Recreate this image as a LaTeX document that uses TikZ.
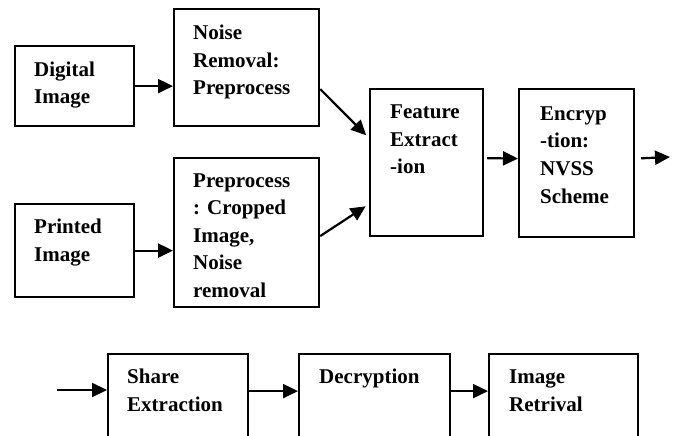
\documentclass[tikz,border=0pt]{standalone}
\usepackage{fontspec}
\setmainfont{Liberation Serif}
\usetikzlibrary{arrows.meta}

\tikzset{
  box/.style={draw=black, line width=2.2pt, rectangle, inner sep=0pt, anchor=north west},
  % multi-line labels are placed by the baseline of their last line
  lbl/.style={font=\bfseries\fontsize{21}{27.5}\selectfont, align=left, inner sep=0pt, anchor=base west},
  flow/.style={line width=2.2pt, -{Triangle[length=15pt,width=14pt]}}
}

\begin{document}
\begin{tikzpicture}[x=1pt, y=-1pt]
  \useasboundingbox (0,0) rectangle (673,436);
  \clip (0,0) rectangle (673,436);

  % input stage
  \node[box, minimum width=119pt, minimum height=80pt]  (dig)   at (14,45)  {};
  \node[box, minimum width=145pt, minimum height=117pt] (noise) at (173,8)  {};
  \node[box, minimum width=119pt, minimum height=93pt]  (prn)   at (14,203) {};
  \node[box, minimum width=145pt, minimum height=149pt] (prep)  at (173,157) {};

  % feature extraction and encryption
  \node[box, minimum width=113pt, minimum height=147pt] (feat)  at (369,88) {};
  \node[box, minimum width=115pt, minimum height=148pt] (enc)   at (518,88) {};

  % receiver side
  \node[box, minimum width=140pt, minimum height=100pt] (share) at (107,353) {};
  \node[box, minimum width=151pt, minimum height=100pt] (dec)   at (298,353) {};
  \node[box, minimum width=149pt, minimum height=100pt] (ret)   at (488,353) {};

  % box texts
  \node[lbl] (tdig)   at (34,104)  {Digital\\Image};
  \node[lbl] (tnoise) at (193,95)  {Noise\\Removal:\\Preprocess};
  \node[lbl] (tprn)   at (34,261)  {Printed\\Image};
  \node[lbl] (tprep)  at (193,297) {Preprocess\\: Cropped\\Image,\\Noise\\removal};
  \node[lbl] (tfeat)  at (390,174) {Feature\\Extract\\-ion};
  \node[lbl] (tenc)   at (540,203) {Encryp\\-tion:\\NVSS\\Scheme};
  \node[lbl] (tshare) at (127,411) {Share\\Extraction};
  \node[lbl] (tdec)   at (319,383) {Decryption};
  \node[lbl] (tret)   at (509,411) {Image\\Retrival};

  % free ends of the open connectors
  \coordinate (out) at (670,157);
  \coordinate (in)  at (57,390);

  % connectors
  \draw[flow] (dig.east) -- (dig.east -| noise.west);
  \draw[flow] (prn.east) -- (prn.east -| prep.west);
  \draw[flow, shorten >=4pt] ([yshift=-21.5pt]noise.east) -- ([yshift=24.5pt]feat.west);
  \draw[flow, shorten >=4pt] ([yshift=-3.5pt]prep.east) -- ([yshift=-41.5pt]feat.west);
  \draw[flow, shorten <=3pt] ([yshift=4.5pt]feat.east) -- ([yshift=4.5pt]enc.west);
  \draw[flow, shorten <=6pt] ([yshift=4.5pt]enc.east) -- (out);
  \draw[flow] (in) -- (in -| share.west);
  \draw[flow] ([yshift=13pt]share.east) -- ([yshift=13pt]dec.west);
  \draw[flow] ([yshift=13pt]dec.east) -- ([yshift=13pt]ret.west);
\end{tikzpicture}
\end{document}
